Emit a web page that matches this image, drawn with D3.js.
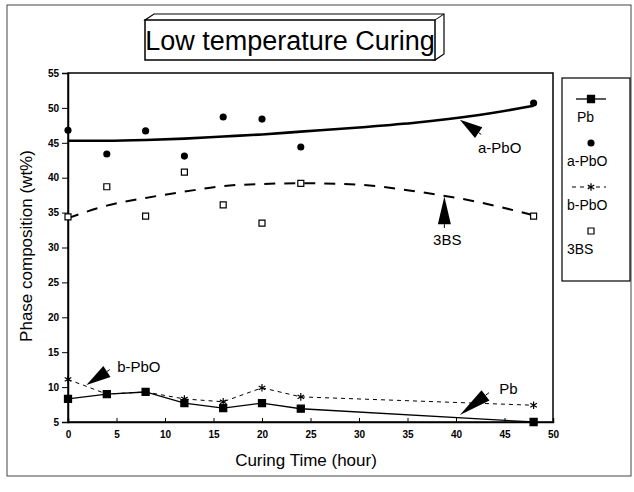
<!DOCTYPE html>
<html>
<head>
<meta charset="utf-8">
<script src="https://cdn.jsdelivr.net/npm/d3@7"></script>
<style>
  body { margin: 0; background: #fff; }
  text { font-family: "Liberation Sans", Arial, sans-serif; fill: #000; }
</style>
</head>
<body>
<div id="chart"></div>
<script>
// measured points
var times = [0, 4, 8, 12, 16, 20, 24, 48];
var pb    = [8.3, 9.0, 9.3, 7.7, 7.0, 7.7, 6.9, 5.0];
var aPbO  = [46.8, 43.4, 46.7, 43.1, 48.7, 48.4, 44.4, 50.7];
var bPbO  = [11.1, 9.0, 9.3, 8.3, 7.9, 9.9, 8.6, 7.4];
var bs3   = [34.4, 38.7, 34.5, 40.8, 36.1, 33.5, 39.2, 34.5];

// fitted trend curves
var fitTimes = [0, 4, 8, 12, 16, 20, 24, 30, 36, 42, 48];
var aPbOFit  = [45.3, 45.3, 45.4, 45.6, 45.9, 46.2, 46.6, 47.2, 47.9, 48.9, 50.3];
var bs3Fit   = [34.2, 36.0, 37.1, 38.0, 38.8, 39.1, 39.2, 39.0, 38.0, 36.6, 34.6];

var xTicks = [0, 5, 10, 15, 20, 25, 30, 35, 40, 45, 50];
var yTicks = [5, 10, 15, 20, 25, 30, 35, 40, 45, 50, 55];

// annotations: label, label pos, arrow tail, arrow tip (data units)
var notes = [
  {text: "a-PbO", at: [44.5, 43.6], tail: [42.6, 46.2], tip: [40.4, 48.3]},
  {text: "3BS",   at: [39.1, 30.4], tail: [38.8, 32.8], tip: [38.8, 37.3]},
  {text: "b-PbO", at: [7.3, 12.1],  tail: [4.3, 12.5],  tip: [1.9, 10.3]},
  {text: "Pb",    at: [45.4, 9.0],  tail: [43.4, 9.2],  tip: [40.4, 6.0]}
];

var W = 634, H = 492;
var margin = {top: 73, right: 81, bottom: 70, left: 68},
    width = W - margin.left - margin.right,
    height = H - margin.top - margin.bottom;

var svg = d3.select("#chart").append("svg")
    .attr("width", W)
    .attr("height", H);

// outer frame of the scanned figure
svg.append("rect")
    .attr("x", 7).attr("y", 5)
    .attr("width", 624).attr("height", 471)
    .attr("fill", "none").attr("stroke", "#444").attr("stroke-width", 1);

// 3d title box
var tb = {x: 145, y: 20, w: 290, h: 40, dx: 9, dy: -6};
svg.append("path")
    .attr("d", "M" + tb.x + "," + tb.y +
        "L" + (tb.x + tb.dx) + "," + (tb.y + tb.dy) +
        "L" + (tb.x + tb.w + tb.dx) + "," + (tb.y + tb.dy) +
        "L" + (tb.x + tb.w + tb.dx) + "," + (tb.y + tb.h + tb.dy) +
        "L" + (tb.x + tb.w) + "," + (tb.y + tb.h) + "Z")
    .attr("fill", "#fff").attr("stroke", "#000").attr("stroke-width", 1.2);
svg.append("line")
    .attr("x1", tb.x + tb.w).attr("y1", tb.y)
    .attr("x2", tb.x + tb.w + tb.dx).attr("y2", tb.y + tb.dy)
    .attr("stroke", "#000");
svg.append("rect")
    .attr("x", tb.x).attr("y", tb.y)
    .attr("width", tb.w).attr("height", tb.h)
    .attr("fill", "#fff").attr("stroke", "#000").attr("stroke-width", 1.5);
svg.append("text")
    .attr("x", tb.x + tb.w / 2).attr("y", tb.y + 30)
    .attr("text-anchor", "middle")
    .style("font-size", "27px")
    .text("Low temperature Curing");

var g = svg.append("g")
    .attr("transform", "translate(" + margin.left + "," + margin.top + ")");

var x = d3.scaleLinear().domain([0, 50]).range([0, width]);
var y = d3.scaleLinear().domain([5, 55]).range([height, 0]);

// plot frame
g.append("rect")
    .attr("width", width).attr("height", height)
    .attr("fill", "none").attr("stroke", "#000").attr("stroke-width", 1.5);

var xAxis = g.append("g")
    .attr("transform", "translate(0," + height + ")")
    .call(d3.axisBottom(x).tickValues(xTicks).tickSize(-4).tickPadding(9));
var yAxis = g.append("g")
    .call(d3.axisLeft(y).tickValues(yTicks).tickSize(6).tickPadding(3));
[xAxis, yAxis].forEach(function (a) {
    a.select(".domain").attr("stroke-width", 1.5);
    a.selectAll("text").style("font-size", "10px").style("font-weight", "bold")
        .style("font-family", "'Liberation Sans', Arial, sans-serif");
});

svg.append("text")
    .attr("x", 306).attr("y", 466)
    .attr("text-anchor", "middle")
    .style("font-size", "17px")
    .text("Curing Time (hour)");
svg.append("text")
    .attr("transform", "translate(32,246) rotate(-90)")
    .attr("text-anchor", "middle")
    .style("font-size", "17px")
    .text("Phase composition (wt%)");

function pts(xs, ys) {
    return xs.map(function (t, i) { return [t, ys[i]]; });
}
var line = d3.line().x(function (d) { return x(d[0]); }).y(function (d) { return y(d[1]); });
var smooth = d3.line().curve(d3.curveMonotoneX)
    .x(function (d) { return x(d[0]); }).y(function (d) { return y(d[1]); });

// trend curves
g.append("path").datum(pts(fitTimes, aPbOFit))
    .attr("d", smooth).attr("fill", "none").attr("stroke", "#000").attr("stroke-width", 2.6);
g.append("path").datum(pts(fitTimes, bs3Fit))
    .attr("d", smooth).attr("fill", "none").attr("stroke", "#000").attr("stroke-width", 2)
    .attr("stroke-dasharray", "11,9");

// connected series
g.append("path").datum(pts(times, bPbO))
    .attr("d", line).attr("fill", "none").attr("stroke", "#000").attr("stroke-width", 1)
    .attr("stroke-dasharray", "4,4");
g.append("path").datum(pts(times, pb))
    .attr("d", line).attr("fill", "none").attr("stroke", "#000").attr("stroke-width", 1.3);

var sq = d3.symbol().type(d3.symbolSquare).size(50);
var sqOpen = d3.symbol().type(d3.symbolSquare).size(36);
var dot = d3.symbol().type(d3.symbolCircle).size(40);
var star = d3.symbol().type(d3.symbolAsterisk).size(40);

function markers(data, sym, fill, stroke) {
    g.append("g").selectAll("path")
        .data(pts(times, data))
        .enter().append("path")
        .attr("transform", function (d) { return "translate(" + x(d[0]) + "," + y(d[1]) + ")"; })
        .attr("d", sym)
        .attr("fill", fill)
        .attr("stroke", stroke)
        .attr("stroke-width", 1.2);
}
markers(bPbO, star, "none", "#000");
markers(pb, sq, "#000", "#000");
markers(aPbO, dot, "#000", "none");
markers(bs3, sqOpen, "#fff", "#000");

// annotation arrows: short tail, then a fat wedge down to the tip
notes.forEach(function (n) {
    var tx = x(n.tail[0]), ty = y(n.tail[1]), px = x(n.tip[0]), py = y(n.tip[1]);
    var dx = px - tx, dy = py - ty, len = Math.sqrt(dx * dx + dy * dy);
    var ux = dx / len, uy = dy / len;
    var bx = tx + ux * len * 0.12, by = ty + uy * len * 0.12;
    var hw = 6.5;
    g.append("line")
        .attr("x1", tx).attr("y1", ty).attr("x2", bx).attr("y2", by)
        .attr("stroke", "#000").attr("stroke-width", 1);
    g.append("path")
        .attr("d", "M" + (bx - uy * hw) + "," + (by + ux * hw) +
            "L" + (bx + uy * hw) + "," + (by - ux * hw) +
            "L" + px + "," + py + "Z")
        .attr("fill", "#000");
    g.append("text")
        .attr("x", x(n.at[0])).attr("y", y(n.at[1]))
        .attr("text-anchor", "middle")
        .style("font-size", "15px")
        .text(n.text);
});

// legend
var legend = svg.append("g").attr("transform", "translate(562,78)");
legend.append("rect")
    .attr("width", 68).attr("height", 203)
    .attr("fill", "#fff").attr("stroke", "#000").attr("stroke-width", 1.2);
var legendItems = [
    {name: "Pb", sym: sq, fill: "#000", line: "solid"},
    {name: "a-PbO", sym: dot, fill: "#000", line: null},
    {name: "b-PbO", sym: star, fill: "none", line: "dash"},
    {name: "3BS", sym: sqOpen, fill: "#fff", line: null}
];
legendItems.forEach(function (it, i) {
    var cy = 21 + i * 44;
    if (it.line) {
        legend.append("line")
            .attr("x1", it.line === "solid" ? 14 : 10).attr("x2", 44)
            .attr("y1", cy).attr("y2", cy)
            .attr("stroke", "#000").attr("stroke-width", it.line === "solid" ? 1.3 : 1)
            .attr("stroke-dasharray", it.line === "dash" ? "4,4" : null);
    }
    legend.append("path")
        .attr("transform", "translate(29," + cy + ")")
        .attr("d", it.sym).attr("fill", it.fill).attr("stroke", "#000")
        .attr("stroke-width", it.fill === "#000" && it.name !== "Pb" ? 0 : 1.2);
    legend.append("text")
        .attr("x", i === 0 ? 15 : 5).attr("y", cy + 23)
        .style("font-size", "14px")
        .text(it.name);
});
</script>
</body>
</html>
